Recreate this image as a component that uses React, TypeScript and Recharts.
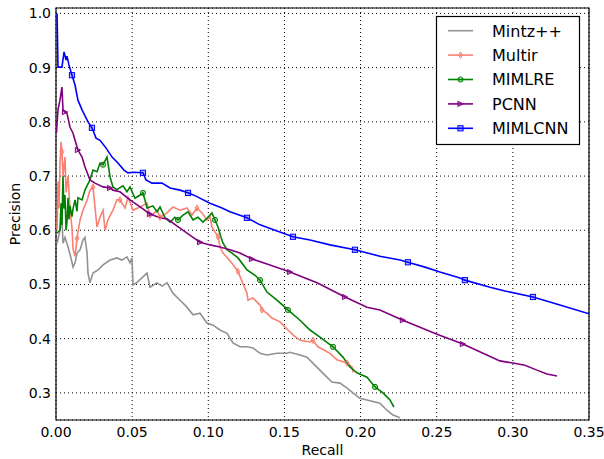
import React from 'react';
import { ComposedChart, Line, XAxis, YAxis, CartesianGrid, ReferenceArea } from 'recharts';

const xTicks = [0, 0.05, 0.1, 0.15, 0.2, 0.25, 0.3, 0.35];
const yTicks = [0.3, 0.4, 0.5, 0.6, 0.7, 0.8, 0.9, 1.0];

const seriesNames = ['Mintz++', 'Multir', 'MIMLRE', 'PCNN', 'MIMLCNN'];

const mintzPts: [number, number][] = [
  [0.0007, 0.576], [0.0026, 0.6], [0.0039, 0.624], [0.0046, 0.576], [0.0059, 0.587], [0.0079, 0.569],
  [0.0092, 0.556], [0.0112, 0.532], [0.0125, 0.54], [0.0138, 0.558], [0.0158, 0.564], [0.0177, 0.582],
  [0.019, 0.587], [0.0204, 0.558], [0.021, 0.521], [0.0223, 0.503], [0.0243, 0.521], [0.0276, 0.527],
  [0.0309, 0.536], [0.0355, 0.545], [0.04, 0.549], [0.0433, 0.545], [0.0466, 0.551], [0.0486, 0.54],
  [0.0499, 0.549], [0.0506, 0.499], [0.0532, 0.504], [0.0571, 0.514], [0.0598, 0.521], [0.0617, 0.495],
  [0.0663, 0.503], [0.0696, 0.497], [0.0729, 0.503], [0.0768, 0.484], [0.0814, 0.471], [0.0854, 0.46],
  [0.09, 0.444], [0.0946, 0.447], [0.0991, 0.429], [0.1031, 0.425], [0.1077, 0.416], [0.1123, 0.41],
  [0.1162, 0.392], [0.1208, 0.385], [0.1254, 0.385], [0.1293, 0.383], [0.134, 0.373], [0.1385, 0.37],
  [0.1451, 0.373], [0.1517, 0.373], [0.1536, 0.375], [0.1602, 0.37], [0.1648, 0.366], [0.1687, 0.355],
  [0.1733, 0.342], [0.1779, 0.329], [0.1812, 0.32], [0.1865, 0.318], [0.1911, 0.309], [0.195, 0.3],
  [0.1996, 0.29], [0.2042, 0.287], [0.2127, 0.281], [0.2173, 0.268], [0.2213, 0.259], [0.2259, 0.254],
];

const multirPts: [number, number][] = [
  [0.0007, 0.6], [0.0013, 0.69], [0.002, 0.64], [0.0026, 0.72], [0.0033, 0.763], [0.0039, 0.745],
  [0.0046, 0.7], [0.0059, 0.735], [0.0066, 0.67], [0.0079, 0.7], [0.0092, 0.64], [0.0105, 0.604],
  [0.0112, 0.565], [0.0125, 0.552], [0.0138, 0.585], [0.0158, 0.619], [0.0177, 0.637], [0.0204, 0.655],
  [0.0223, 0.674], [0.0243, 0.68], [0.0269, 0.606], [0.0289, 0.624], [0.0309, 0.637], [0.0322, 0.6],
  [0.0341, 0.619], [0.0374, 0.637], [0.04, 0.656], [0.042, 0.656], [0.0453, 0.641], [0.0473, 0.661],
  [0.0506, 0.637], [0.0552, 0.643], [0.0598, 0.65], [0.0617, 0.624], [0.0663, 0.637], [0.0683, 0.624],
  [0.0729, 0.632], [0.0768, 0.643], [0.0814, 0.637], [0.086, 0.641], [0.0893, 0.628], [0.0926, 0.641],
  [0.0959, 0.632], [0.0991, 0.619], [0.1011, 0.626], [0.1024, 0.606], [0.1044, 0.597], [0.1064, 0.588],
  [0.1077, 0.569], [0.1097, 0.558], [0.1129, 0.548], [0.1162, 0.537], [0.1195, 0.524], [0.1218, 0.508],
  [0.1254, 0.484], [0.1261, 0.471], [0.1293, 0.475], [0.134, 0.462], [0.1353, 0.453], [0.1385, 0.447],
  [0.1418, 0.438], [0.1471, 0.431], [0.1523, 0.416], [0.1556, 0.407], [0.1602, 0.397], [0.1668, 0.394],
  [0.1687, 0.397], [0.172, 0.385], [0.1799, 0.373], [0.1845, 0.361], [0.1911, 0.355], [0.1944, 0.348],
  [0.195, 0.338],
];

const mimlrePts: [number, number][] = [
  [0.0007, 0.595], [0.0026, 0.6], [0.0033, 0.65], [0.0039, 0.61], [0.0046, 0.7], [0.0052, 0.64],
  [0.0059, 0.665], [0.0066, 0.6], [0.0072, 0.615], [0.0079, 0.66], [0.0085, 0.62], [0.0092, 0.645],
  [0.0105, 0.625], [0.0112, 0.64], [0.0125, 0.656], [0.0138, 0.635], [0.0144, 0.66], [0.0171, 0.656],
  [0.019, 0.674], [0.0223, 0.693], [0.0243, 0.711], [0.0269, 0.708], [0.0289, 0.724], [0.0309, 0.721],
  [0.0335, 0.735], [0.0355, 0.698], [0.0374, 0.68], [0.04, 0.675], [0.044, 0.682], [0.0466, 0.671],
  [0.0486, 0.68], [0.0519, 0.659], [0.0552, 0.665], [0.0571, 0.669], [0.0598, 0.641], [0.0637, 0.645],
  [0.0663, 0.634], [0.0683, 0.643], [0.0716, 0.623], [0.0749, 0.615], [0.0781, 0.624], [0.0801, 0.619],
  [0.0834, 0.628], [0.0867, 0.634], [0.09, 0.619], [0.0932, 0.624], [0.0965, 0.615], [0.0998, 0.624],
  [0.1024, 0.632], [0.1044, 0.619], [0.1064, 0.606], [0.1083, 0.587], [0.1097, 0.576], [0.1123, 0.564],
  [0.1156, 0.558], [0.1195, 0.549], [0.1254, 0.527], [0.1307, 0.517], [0.134, 0.508], [0.1385, 0.486],
  [0.1451, 0.471], [0.1523, 0.453], [0.1602, 0.434], [0.1668, 0.416], [0.1733, 0.403], [0.1819, 0.385],
  [0.1884, 0.366], [0.193, 0.348], [0.1976, 0.337], [0.2042, 0.329], [0.2095, 0.311], [0.2147, 0.3],
  [0.2193, 0.287], [0.2219, 0.274],
];

const pcnnPts: [number, number][] = [
  [0.0003, 0.78], [0.0013, 0.822], [0.0026, 0.84], [0.0039, 0.864], [0.0046, 0.822], [0.0059, 0.818],
  [0.0072, 0.816], [0.0092, 0.79], [0.0112, 0.779], [0.0125, 0.766], [0.0144, 0.748], [0.0171, 0.735],
  [0.019, 0.717], [0.0223, 0.693], [0.0256, 0.687], [0.0309, 0.68], [0.0355, 0.678], [0.0374, 0.674],
  [0.042, 0.671], [0.0486, 0.656], [0.0552, 0.643], [0.0617, 0.63], [0.0683, 0.623], [0.0729, 0.621],
  [0.0814, 0.604], [0.09, 0.587], [0.0946, 0.578], [0.1011, 0.573], [0.1077, 0.569], [0.1142, 0.564],
  [0.1208, 0.558], [0.1287, 0.547], [0.1405, 0.536], [0.1536, 0.523], [0.1714, 0.503], [0.1898, 0.477],
  [0.2042, 0.458], [0.2127, 0.453], [0.2278, 0.434], [0.239, 0.421], [0.2502, 0.408], [0.2672, 0.39],
  [0.2804, 0.373], [0.2915, 0.359], [0.3001, 0.355], [0.3079, 0.351], [0.3158, 0.342], [0.3224, 0.335],
  [0.329, 0.331],
];

const mimlcnnPts: [number, number][] = [
  [0.0007, 1.0], [0.0013, 0.901], [0.0039, 0.901], [0.0053, 0.929], [0.0066, 0.914], [0.0072, 0.921],
  [0.0085, 0.905], [0.0105, 0.886], [0.0125, 0.868], [0.0144, 0.84], [0.0171, 0.822], [0.021, 0.8],
  [0.0236, 0.789], [0.0263, 0.77], [0.0289, 0.766], [0.0328, 0.752], [0.0368, 0.735], [0.0407, 0.724],
  [0.0446, 0.711], [0.0473, 0.706], [0.0506, 0.707], [0.0571, 0.706], [0.0591, 0.693], [0.063, 0.687],
  [0.0696, 0.687], [0.0749, 0.678], [0.0814, 0.674], [0.0867, 0.669], [0.0919, 0.663], [0.1011, 0.65],
  [0.109, 0.641], [0.1142, 0.634], [0.1254, 0.623], [0.134, 0.61], [0.1438, 0.6], [0.1556, 0.588],
  [0.1668, 0.582], [0.1799, 0.573], [0.1963, 0.564], [0.2127, 0.552], [0.2259, 0.545], [0.2311, 0.541],
  [0.2423, 0.532], [0.2521, 0.523], [0.2653, 0.512], [0.2685, 0.508], [0.285, 0.495], [0.2948, 0.488],
  [0.3132, 0.477], [0.3309, 0.462], [0.35, 0.446],
];

// recall positions where markers are drawn
const multirMarks = [0.0039, 0.0138, 0.0243, 0.042, 0.0683, 0.0926, 0.1064, 0.1195, 0.1353, 0.1687, 0.1911];
const mimlreMarks = [0.0309, 0.0571, 0.0801, 0.1044, 0.134, 0.1523, 0.1819, 0.2095];
const pcnnMarks = [0.0059, 0.0144, 0.0355, 0.0617, 0.0946, 0.1287, 0.1536, 0.1898, 0.2278, 0.2672];
const mimlcnnMarks = [0.0105, 0.0236, 0.0571, 0.0867, 0.1254, 0.1556, 0.1963, 0.2311, 0.2685, 0.3132];

const toRows = (pts: [number, number][]) => pts.map(([r, p]) => ({ r, p }));

const nearestSet = (pts: [number, number][], marks: number[]) => {
  const s = new Set<number>();
  marks.forEach((m) => {
    let best = 0;
    let bd = Infinity;
    pts.forEach(([r], i) => {
      const d = Math.abs(r - m);
      if (d < bd) { bd = d; best = i; }
    });
    s.add(best);
  });
  return s;
};

type Shape = 'none' | 'diamond' | 'circle' | 'tri' | 'square';

const Marker = ({ cx, cy, shape, color }: { cx: number; cy: number; shape: Shape; color: string }) => {
  const s = 2.6;
  const common = { fill: color, fillOpacity: 0.3, stroke: color, strokeWidth: 1 };
  if (shape === 'square') return <rect x={cx - s} y={cy - s} width={2 * s} height={2 * s} {...common} />;
  if (shape === 'circle') return <circle cx={cx} cy={cy} r={s} {...common} />;
  if (shape === 'diamond')
    return <polygon points={`${cx},${cy - s * 1.2} ${cx + s * 0.75},${cy} ${cx},${cy + s * 1.2} ${cx - s * 0.75},${cy}`} {...common} />;
  if (shape === 'tri')
    return <polygon points={`${cx + s},${cy} ${cx - s},${cy - s} ${cx - s},${cy + s}`} {...common} />;
  return null;
};

const series = [
  { name: seriesNames[0], pts: mintzPts, marks: [] as number[], color: '#929292', shape: 'none' as Shape },
  { name: seriesNames[1], pts: multirPts, marks: multirMarks, color: '#FA8072', shape: 'diamond' as Shape },
  { name: seriesNames[2], pts: mimlrePts, marks: mimlreMarks, color: '#008000', shape: 'circle' as Shape },
  { name: seriesNames[3], pts: pcnnPts, marks: pcnnMarks, color: '#800080', shape: 'tri' as Shape },
  { name: seriesNames[4], pts: mimlcnnPts, marks: mimlcnnMarks, color: '#0000FF', shape: 'square' as Shape },
];

const font = 'DejaVu Sans, Verdana, sans-serif';

export default function App() {
  return (
    <div style={{ position: 'fixed', left: 0, top: 0, width: 604, height: 459, background: '#fff', overflow: 'hidden' }}>
      <ComposedChart width={604} height={459} margin={{ top: 8, right: 15, bottom: 0, left: 0 }}>
        <CartesianGrid stroke="#000" strokeDasharray="1 3" strokeWidth={1} />
        <XAxis
          type="number"
          dataKey="r"
          domain={[0, 0.35]}
          ticks={xTicks}
          allowDataOverflow
          height={39}
          tickSize={4}
          tickMargin={3}
          tickLine={false}
          axisLine={false}
          tickFormatter={(v: number) => v.toFixed(2)}
          tick={{ fontSize: 14, fill: '#000', fontFamily: font }}
          label={{
            content: () => (
              <text x={322.5} y={455} textAnchor="middle" fontSize={14} fontFamily={font} fill="#000">Recall</text>
            ),
          }}
        />
        <YAxis
          type="number"
          dataKey="p"
          domain={[0.25, 1.01]}
          ticks={yTicks}
          allowDataOverflow
          width={56}
          tickSize={3}
          tickMargin={2}
          tickLine={false}
          axisLine={false}
          tickFormatter={(v: number) => v.toFixed(1)}
          tick={{ fontSize: 14, fill: '#000', fontFamily: font }}
          label={{
            content: () => (
              <text x={20} y={214} transform="rotate(-90 20 214)" textAnchor="middle" fontSize={14} fontFamily={font} fill="#000">Precision</text>
            ),
          }}
        />
        {series.map((s) => {
          const idx = nearestSet(s.pts, s.marks);
          return (
            <Line
              key={s.name}
              name={s.name}
              data={toRows(s.pts)}
              dataKey="p"
              type="linear"
              stroke={s.color}
              strokeWidth={1.6}
              isAnimationActive={false}
              activeDot={false}
              dot={(props: any) =>
                idx.has(props.index) ? (
                  <Marker key={`${s.name}-${props.index}`} cx={props.cx} cy={props.cy} shape={s.shape} color={s.color} />
                ) : (
                  <g key={`${s.name}-${props.index}`} />
                )
              }
            />
          );
        })}
        <ReferenceArea x1={0} x2={0.35} y1={0.25} y2={1.01} fill="none" stroke="#000" strokeWidth={1.2} strokeOpacity={1} />
      </ComposedChart>
      <svg width={604} height={459} style={{ position: 'absolute', left: 0, top: 0, pointerEvents: 'none' }}>
        <rect x={436.5} y={16.5} width={143} height={128} fill="#fff" stroke="#000" strokeWidth={1.2} />
        {series.map((s, i) => {
          const y = 30.7 + i * 24.4;
          return (
            <g key={s.name}>
              <line x1={448} x2={473} y1={y} y2={y} stroke={s.color} strokeWidth={1.6} />
              <Marker cx={460.5} cy={y} shape={s.shape} color={s.color} />
              <text x={492} y={y + 5.8} fontSize={16} fontFamily={font} fill="#000">{s.name}</text>
            </g>
          );
        })}
      </svg>
    </div>
  );
}
